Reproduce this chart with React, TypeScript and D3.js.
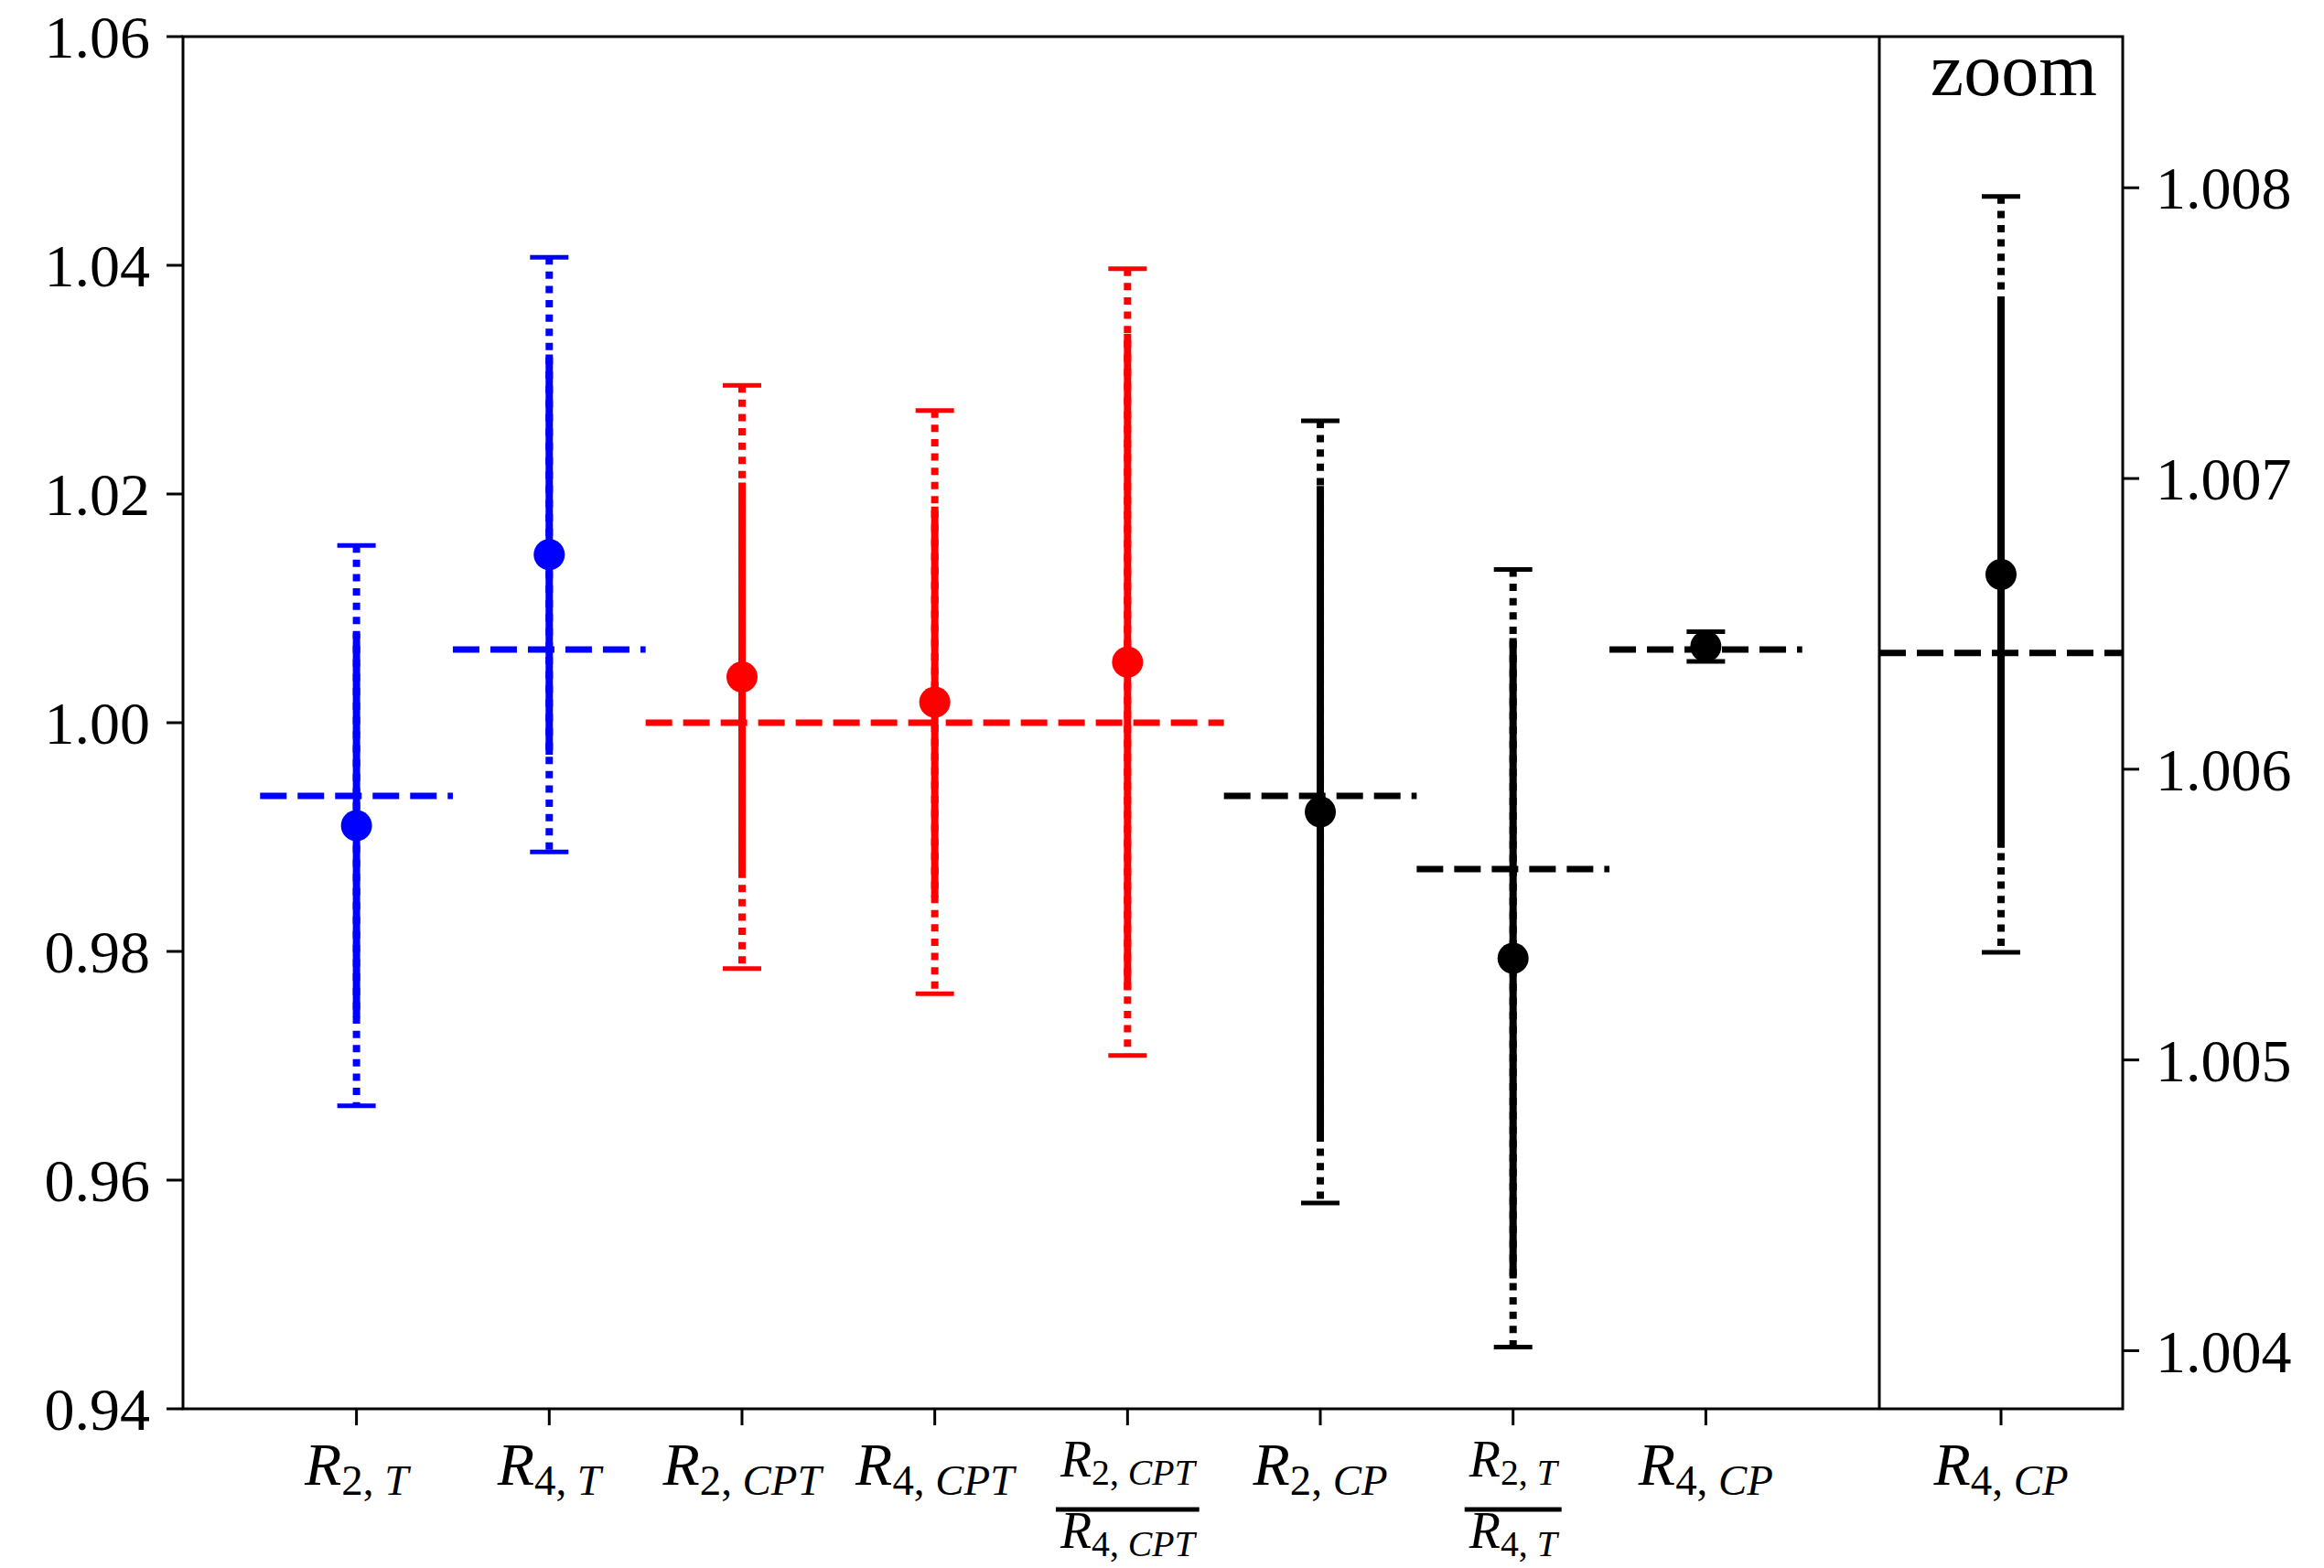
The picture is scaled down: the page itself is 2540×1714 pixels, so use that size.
import * as d3 from "d3";
import React, { useEffect, useRef } from "react";

// measurements: central value, statistical (solid) and total (dotted) errors
const positions = [1, 2, 3, 4, 5, 6, 7, 8];
const labelNum = [["2", "T"], ["4", "T"], ["2", "CPT"], ["4", "CPT"], ["2", "CPT"], ["2", "CP"], ["2", "T"], ["4", "CP"]];
const labelDen = [null, null, null, null, ["4", "CPT"], null, ["4", "T"], null];
const pointColors = ["#0000ff", "#0000ff", "#ff0000", "#ff0000", "#ff0000", "#000000", "#000000", "#000000"];
const centralValues = [0.991, 1.0147, 1.004, 1.0018, 1.0053, 0.9922, 0.9794, 1.00667];
const statErrors = [0.0168, 0.0175, 0.017, 0.0171, 0.0287, 0.0285, 0.028, 0.00094];
const totalErrors = [0.0245, 0.026, 0.0255, 0.0255, 0.0344, 0.0342, 0.034, 0.0013];

// theory predictions (dashed)
const theoryValues = [0.9936, 1.0064, 1.0, 0.9936, 0.9872, 1.0064];
const theoryFrom = [0.5, 1.5, 2.5, 5.5, 6.5, 7.5];
const theoryTo = [1.5, 2.5, 5.5, 6.5, 7.5, 8.5];
const theoryColors = ["#0000ff", "#0000ff", "#ff0000", "#000000", "#000000", "#000000"];

const leftTicks = [0.94, 0.96, 0.98, 1.0, 1.02, 1.04, 1.06];
const rightTicks = [1.004, 1.005, 1.006, 1.007, 1.008];
const zoomIndex = 7;

const FONT = "'Liberation Serif', 'Times New Roman', serif";

const App = () => {
  const svgRef = useRef(null);

  useEffect(() => {
    const svg = d3.select(svgRef.current);
    svg.selectAll("*").remove();

    const left = 200, top = 40, bottom = 1540, split = 2054, right = 2320;
    const x = d3.scaleLinear().domain([0.1, 8.9]).range([left, split]);
    const y = d3.scaleLinear().domain([0.94, 1.06]).range([bottom, top]);
    const xz = d3.scaleLinear().domain([0, 1]).range([split, right]);
    const yz = d3.scaleLinear().domain([1.0038, 1.00852]).range([bottom, top]);

    const capW = 21;
    const lw = 8;

    // theory lines
    theoryValues.forEach((v, i) => {
      svg.append("line")
        .attr("x1", x(theoryFrom[i])).attr("x2", x(theoryTo[i]))
        .attr("y1", y(v)).attr("y2", y(v))
        .attr("stroke", theoryColors[i]).attr("stroke-width", 7)
        .attr("stroke-dasharray", "29 12");
    });
    svg.append("line")
      .attr("x1", xz(0)).attr("x2", xz(1))
      .attr("y1", yz(theoryValues[5])).attr("y2", yz(theoryValues[5]))
      .attr("stroke", "#000").attr("stroke-width", 7)
      .attr("stroke-dasharray", "29 12");

    const drawBar = (cx, yScale, v, stat, tot, color) => {
      const g = svg.append("g");
      g.append("line")
        .attr("x1", cx).attr("x2", cx)
        .attr("y1", yScale(v + tot)).attr("y2", yScale(v - tot))
        .attr("stroke", color).attr("stroke-width", lw)
        .attr("stroke-dasharray", "8 7.6");
      g.append("line")
        .attr("x1", cx).attr("x2", cx)
        .attr("y1", yScale(v + stat)).attr("y2", yScale(v - stat))
        .attr("stroke", color).attr("stroke-width", lw);
      [v + tot, v - tot].forEach((c) => {
        g.append("line")
          .attr("x1", cx - capW).attr("x2", cx + capW)
          .attr("y1", yScale(c)).attr("y2", yScale(c))
          .attr("stroke", color).attr("stroke-width", 5);
      });
      g.append("circle")
        .attr("cx", cx).attr("cy", yScale(v)).attr("r", 17)
        .attr("fill", color);
    };

    positions.forEach((p, i) => {
      drawBar(x(p), y, centralValues[i], statErrors[i], totalErrors[i], pointColors[i]);
    });
    drawBar(xz(0.5), yz, centralValues[zoomIndex], statErrors[zoomIndex], totalErrors[zoomIndex], pointColors[zoomIndex]);

    // frame
    const frame = svg.append("g").attr("stroke", "#000").attr("stroke-width", 3).attr("fill", "none");
    frame.append("rect").attr("x", left).attr("y", top).attr("width", right - left).attr("height", bottom - top);
    frame.append("line").attr("x1", split).attr("x2", split).attr("y1", top).attr("y2", bottom);

    // left axis
    leftTicks.forEach((t) => {
      svg.append("line")
        .attr("x1", left - 18).attr("x2", left)
        .attr("y1", y(t)).attr("y2", y(t))
        .attr("stroke", "#000").attr("stroke-width", 3);
      svg.append("text")
        .attr("x", left - 36).attr("y", y(t)).attr("dy", "0.35em")
        .attr("text-anchor", "end")
        .attr("font-family", FONT).attr("font-size", 66)
        .text(t.toFixed(2));
    });

    // right axis (zoom)
    rightTicks.forEach((t) => {
      svg.append("line")
        .attr("x1", right).attr("x2", right + 18)
        .attr("y1", yz(t)).attr("y2", yz(t))
        .attr("stroke", "#000").attr("stroke-width", 3);
      svg.append("text")
        .attr("x", right + 36).attr("y", yz(t)).attr("dy", "0.35em")
        .attr("font-family", FONT).attr("font-size", 66)
        .text(t.toFixed(3));
    });

    svg.append("text")
      .attr("x", right - 28).attr("y", 104)
      .attr("text-anchor", "end")
      .attr("font-family", FONT).attr("font-size", 82)
      .text("zoom");

    const drawLabel = (cx, baseline, parts, size) => {
      const sub = size * 0.71;
      const t = svg.append("text")
        .attr("x", cx).attr("y", baseline)
        .attr("text-anchor", "middle")
        .attr("font-family", FONT).attr("font-size", size);
      t.append("tspan").attr("font-style", "italic").text("R");
      t.append("tspan").attr("font-size", sub).attr("dy", size * 0.16).text(parts[0] + ",");
      t.append("tspan").attr("font-size", sub).attr("font-style", "italic").attr("dx", sub * 0.25).text(parts[1]);
      return t;
    };

    const tickLabel = (cx, num, den) => {
      svg.append("line")
        .attr("x1", cx).attr("x2", cx)
        .attr("y1", bottom).attr("y2", bottom + 18)
        .attr("stroke", "#000").attr("stroke-width", 3);
      if (!den) {
        drawLabel(cx, 1623, num, 66);
        return;
      }
      const a = drawLabel(cx, 1614, num, 56);
      const b = drawLabel(cx, 1692, den, 56);
      const w = Math.max(a.node().getBBox().width, b.node().getBBox().width) + 6;
      svg.append("line")
        .attr("x1", cx - w / 2).attr("x2", cx + w / 2)
        .attr("y1", 1650).attr("y2", 1650)
        .attr("stroke", "#000").attr("stroke-width", 5);
    };

    positions.forEach((p, i) => tickLabel(x(p), labelNum[i], labelDen[i]));
    tickLabel(xz(0.5), labelNum[zoomIndex], null);
  }, []);

  return (
    <svg
      ref={svgRef}
      width="2540"
      height="1714"
      style={{ position: "absolute", left: 0, top: 0, background: "#fff" }}
    ></svg>
  );
};

export default App;
